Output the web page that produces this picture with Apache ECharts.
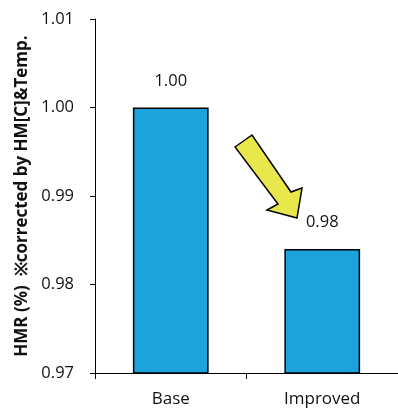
<!DOCTYPE html>
<html><head><meta charset="utf-8">
<script src="https://cdn.jsdelivr.net/npm/echarts@6/dist/echarts.min.js"></script>
<style>html,body{margin:0;padding:0;background:#fff}#c{width:398px;height:408px}</style>
</head><body><div id="c"></div>
<script>
const categories = ["Base", "Improved"];
const values = [1.000, 0.984];
const yTicks = [0.97, 0.98, 0.99, 1.00, 1.01];
const yName = "HMR (%)  ※corrected by HM[C]&Temp.";

const chart = echarts.init(document.getElementById('c'));
const font = "Open Sans";
chart.setOption({
  animation: false,
  grid: { left: 95, top: 19, width: 310, height: 354, containLabel: false },
  xAxis: {
    type: 'category', data: categories,
    axisLine: { lineStyle: { color: '#000', width: 1 } },
    axisTick: { show: true, length: 6, lineStyle: { color: '#000' } },
    axisLabel: { color: '#111', fontSize: 17, fontFamily: font, margin: 18 }
  },
  yAxis: {
    type: 'value', min: yTicks[0], max: yTicks[yTicks.length-1], interval: 0.01,
    name: yName, nameLocation: 'middle', nameGap: 62, nameRotate: 90,
    nameTextStyle: { color: '#111', fontSize: 17, fontWeight: 'bold', fontFamily: font },
    axisLine: { show: true, lineStyle: { color: '#000', width: 1 } },
    axisTick: { show: true, length: 5, lineStyle: { color: '#000' } },
    splitLine: { show: false },
    axisLabel: { color: '#111', fontSize: 16.5, fontFamily: font, margin: 21,
      formatter: v => v.toFixed(2) }
  },
  series: [{
    type: 'bar', data: values, barWidth: '50%',
    itemStyle: { color: '#1DA3DC', borderColor: '#000', borderWidth: 1.5 },
    label: { show: true, position: 'top', distance: 18, color: '#111', fontSize: 16.5,
      fontFamily: font, formatter: p => p.value.toFixed(2) }
  }],
  graphic: [{
    type: 'polygon', z: 100,
    shape: { points: [[235,147],[252,135],[291,192],[302,188],[297,218],[267,210],[278,204]] },
    style: { fill: '#E8E84C', stroke: '#000', lineWidth: 1.5 }
  }]
});
</script></body></html>
